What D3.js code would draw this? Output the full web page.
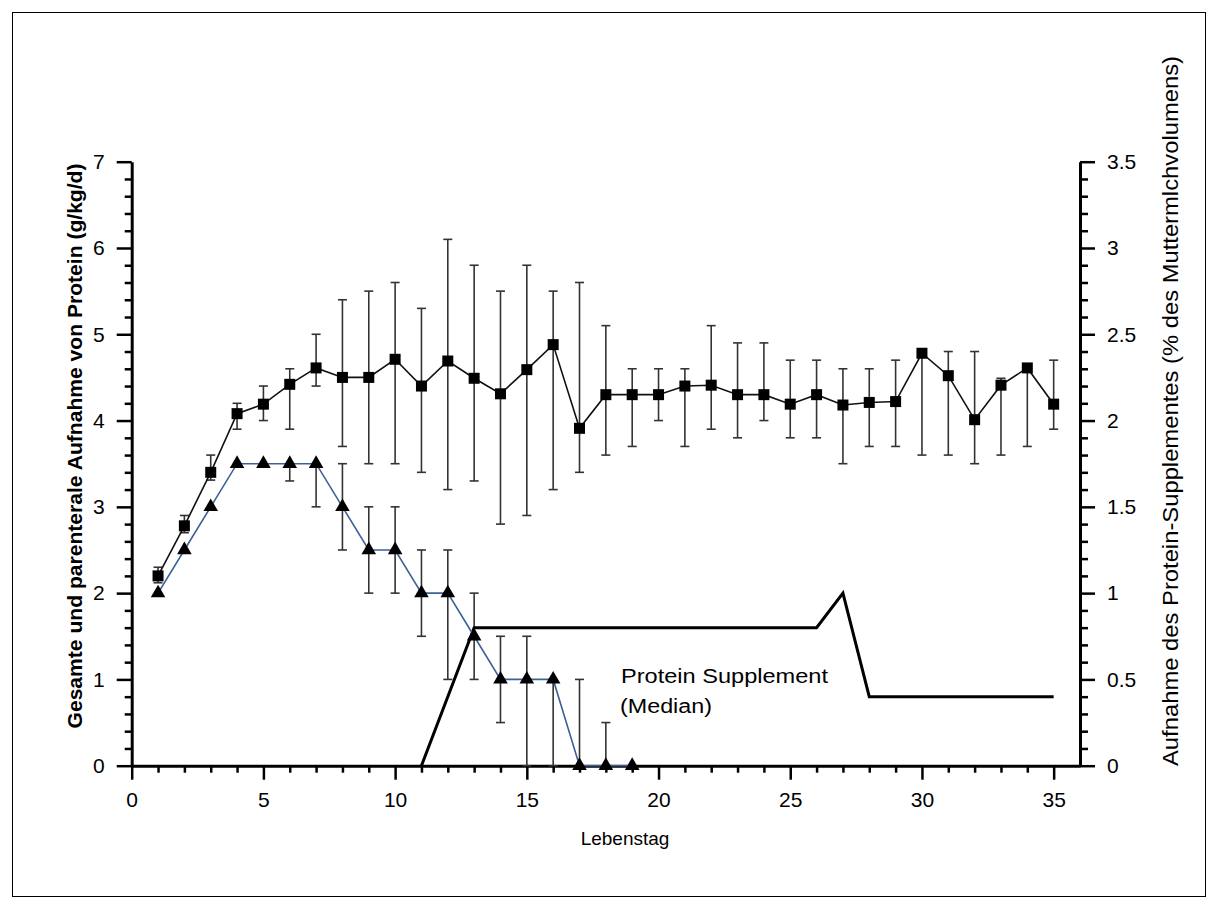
<!DOCTYPE html>
<html>
<head>
<meta charset="utf-8">
<script src="https://cdn.jsdelivr.net/npm/d3@7/dist/d3.min.js"></script>
<style>
  html, body { margin: 0; padding: 0; background: #fff; }
  svg { display: block; }
  text { font-family: "Liberation Sans", Arial, sans-serif; fill: #000; }
</style>
</head>
<body>
<svg id="chart" width="1217" height="909"></svg>
<script>
// ---- Data ----
const days = [1,2,3,4,5,6,7,8,9,10,11,12,13,14,15,16,17,18,19,20,21,22,23,24,25,26,27,28,29,30,31,32,33,34,35];
const totalMean  = [2.2,2.78,3.4,4.08,4.19,4.42,4.61,4.5,4.5,4.71,4.4,4.69,4.49,4.31,4.59,4.88,3.91,4.3,4.3,4.3,4.4,4.41,4.3,4.3,4.19,4.3,4.18,4.21,4.22,4.78,4.52,4.01,4.41,4.61,4.19];
const totalUpper = [2.3,2.9,3.6,4.2,4.4,4.6,5.0,5.4,5.5,5.6,5.3,6.1,5.8,5.5,5.8,5.5,5.6,5.1,4.6,4.6,4.6,5.1,4.9,4.9,4.7,4.7,4.6,4.6,4.7,4.8,4.8,4.8,4.49,4.65,4.7];
const totalLower = [2.12,2.7,3.31,3.9,4.0,3.9,4.4,3.7,3.5,3.5,3.4,3.2,3.3,2.8,2.9,3.2,3.4,3.6,3.7,4.0,3.7,3.9,3.8,4.0,3.8,3.8,3.5,3.7,3.7,3.6,3.6,3.5,3.6,3.7,3.9];

const parDays  = [1,2,3,4,5,6,7,8,9,10,11,12,13,14,15,16,17,18,19];
const parMean  = [2.0,2.5,3.0,3.5,3.5,3.5,3.5,3.0,2.5,2.5,2.0,2.0,1.5,1.0,1.0,1.0,0,0,0];
const parUpper = [2.0,2.5,3.0,3.5,3.5,3.5,3.5,3.5,3.0,3.0,2.5,2.5,2.0,1.5,1.5,1.0,1.0,0.5,0];
const parLower = [2.0,2.5,3.0,3.5,3.5,3.3,3.0,2.5,2.0,2.0,1.5,1.0,1.0,0.5,0,0,0,0,0];

const suppDays = [11,13,26,27,28,35];
const suppVal  = [0,0.8,0.8,1.0,0.4,0.4];

const xMajor = [0,5,10,15,20,25,30,35];
const yLeftMajor = [0,1,2,3,4,5,6,7];
const yRightMajor = [0,0.5,1,1.5,2,2.5,3,3.5];

const leftTitle = "Gesamte und parenterale Aufnahme von Protein (g/kg/d)";
const rightTitle = "Aufnahme des Protein-Supplementes (% des Muttermlchvolumens)";
const xTitle = "Lebenstag";
const annot1 = "Protein Supplement";
const annot2 = "(Median)";

// ---- Layout ----
const svg = d3.select("#chart");
const X0 = 131.7, X1 = 1080, Y0 = 765.7, Y1 = 161.7;

svg.append("rect").attr("x",12.5).attr("y",12.5).attr("width",1193).attr("height",884)
  .attr("fill","none").attr("stroke","#000").attr("stroke-width",1);

const x = d3.scaleLinear().domain([0,36]).range([X0,X1]);
const yL = d3.scaleLinear().domain([0,7]).range([Y0,Y1]);
const yR = d3.scaleLinear().domain([0,3.5]).range([Y0,Y1]);

const fmt = d => String(d);
function styleAxis(g){
  g.select(".domain").attr("stroke","#000").attr("stroke-width",3);
  g.selectAll(".tick line").attr("stroke","#000").attr("stroke-width",2.5);
  g.selectAll(".tick text").style("font-size","21px").attr("fill","#000");
}

// minor ticks
const xMinor = d3.range(0,37).filter(d => d % 5 !== 0 && d < 36);
svg.append("g").attr("transform",`translate(0,${Y0})`)
  .call(d3.axisBottom(x).tickValues(xMinor).tickSize(7).tickSizeOuter(0).tickFormat(""))
  .call(g => { styleAxis(g); g.select(".domain").remove(); });
const yLMinor = d3.range(0,36).map(i => i/5).filter((d,i) => i % 5 !== 0);
svg.append("g").attr("transform",`translate(${X0},0)`)
  .call(d3.axisLeft(yL).tickValues(yLMinor).tickSize(7).tickSizeOuter(0).tickFormat(""))
  .call(g => { styleAxis(g); g.select(".domain").remove(); });
const yRMinor = d3.range(0,36).map(i => i/10).filter((d,i) => i % 5 !== 0);
svg.append("g").attr("transform",`translate(${X1},0)`)
  .call(d3.axisRight(yR).tickValues(yRMinor).tickSize(8).tickSizeOuter(0).tickFormat(""))
  .call(g => { styleAxis(g); g.select(".domain").remove(); });

// major axes
svg.append("g").attr("transform",`translate(0,${Y0})`)
  .call(d3.axisBottom(x).tickValues(xMajor).tickSize(14).tickSizeOuter(0).tickPadding(12).tickFormat(fmt))
  .call(styleAxis);
svg.append("g").attr("transform",`translate(${X0},0)`)
  .call(d3.axisLeft(yL).tickValues(yLeftMajor).tickSize(15).tickSizeOuter(0).tickPadding(12).tickFormat(fmt))
  .call(styleAxis);
svg.append("g").attr("transform",`translate(${X1},0)`)
  .call(d3.axisRight(yR).tickValues(yRightMajor).tickSize(15).tickSizeOuter(0).tickPadding(12).tickFormat(fmt))
  .call(styleAxis);

// titles
svg.append("text").attr("transform",`translate(82,446) rotate(-90)`)
  .attr("text-anchor","middle").style("font-size","21px").style("font-weight","bold")
  .attr("textLength",565).attr("lengthAdjust","spacingAndGlyphs").text(leftTitle);
svg.append("text").attr("transform",`translate(1178,411) rotate(-90)`)
  .attr("text-anchor","middle").style("font-size","22px")
  .attr("textLength",710).attr("lengthAdjust","spacingAndGlyphs").text(rightTitle);
svg.append("text").attr("x",625).attr("y",845).attr("text-anchor","middle")
  .style("font-size","19px").text(xTitle);
svg.append("text").attr("x",621).attr("y",683).style("font-size","20px")
  .attr("textLength",207).attr("lengthAdjust","spacingAndGlyphs").text(annot1);
svg.append("text").attr("x",620).attr("y",713).style("font-size","20px")
  .attr("textLength",92).attr("lengthAdjust","spacingAndGlyphs").text(annot2);

// error bars
const capW = 4.5;
function errorBars(dx, lo, hi, scale){
  const g = svg.append("g").attr("stroke","#333").attr("stroke-width",1.6).attr("fill","none");
  dx.forEach((d,i) => {
    if (hi[i] === lo[i]) return;
    const cx = x(d);
    g.append("line").attr("x1",cx).attr("x2",cx).attr("y1",scale(lo[i])).attr("y2",scale(hi[i]));
    g.append("line").attr("x1",cx-capW).attr("x2",cx+capW).attr("y1",scale(hi[i])).attr("y2",scale(hi[i]));
    g.append("line").attr("x1",cx-capW).attr("x2",cx+capW).attr("y1",scale(lo[i])).attr("y2",scale(lo[i]));
  });
}
errorBars(days, totalLower, totalUpper, yL);
errorBars(parDays, parLower, parUpper, yL);

// supplement line
svg.append("path").datum(suppDays.map((d,i)=>[d,suppVal[i]]))
  .attr("fill","none").attr("stroke","#000").attr("stroke-width",3).attr("stroke-linejoin","miter")
  .attr("d", d3.line().x(d=>x(d[0])).y(d=>yR(d[1])));

// lines
svg.append("path").datum(parDays.map((d,i)=>[d,parMean[i]]))
  .attr("fill","none").attr("stroke","#3d6196").attr("stroke-width",1.6)
  .attr("d", d3.line().x(d=>x(d[0])).y(d=>yL(d[1])));
svg.append("path").datum(days.map((d,i)=>[d,totalMean[i]]))
  .attr("fill","none").attr("stroke","#111").attr("stroke-width",1.6)
  .attr("d", d3.line().x(d=>x(d[0])).y(d=>yL(d[1])));

// markers
svg.append("g").selectAll("rect").data(days).join("rect")
  .attr("x",(d)=>x(d)-5.5).attr("y",(d,i)=>yL(totalMean[i])-5.5)
  .attr("width",11).attr("height",11).attr("fill","#000");
const tri = d3.symbol().type(d3.symbolTriangle).size(92);
svg.append("g").selectAll("path").data(parDays).join("path")
  .attr("transform",(d,i)=>`translate(${x(d)},${yL(parMean[i])})`)
  .attr("d",tri).attr("fill","#000");
</script>
</body>
</html>
